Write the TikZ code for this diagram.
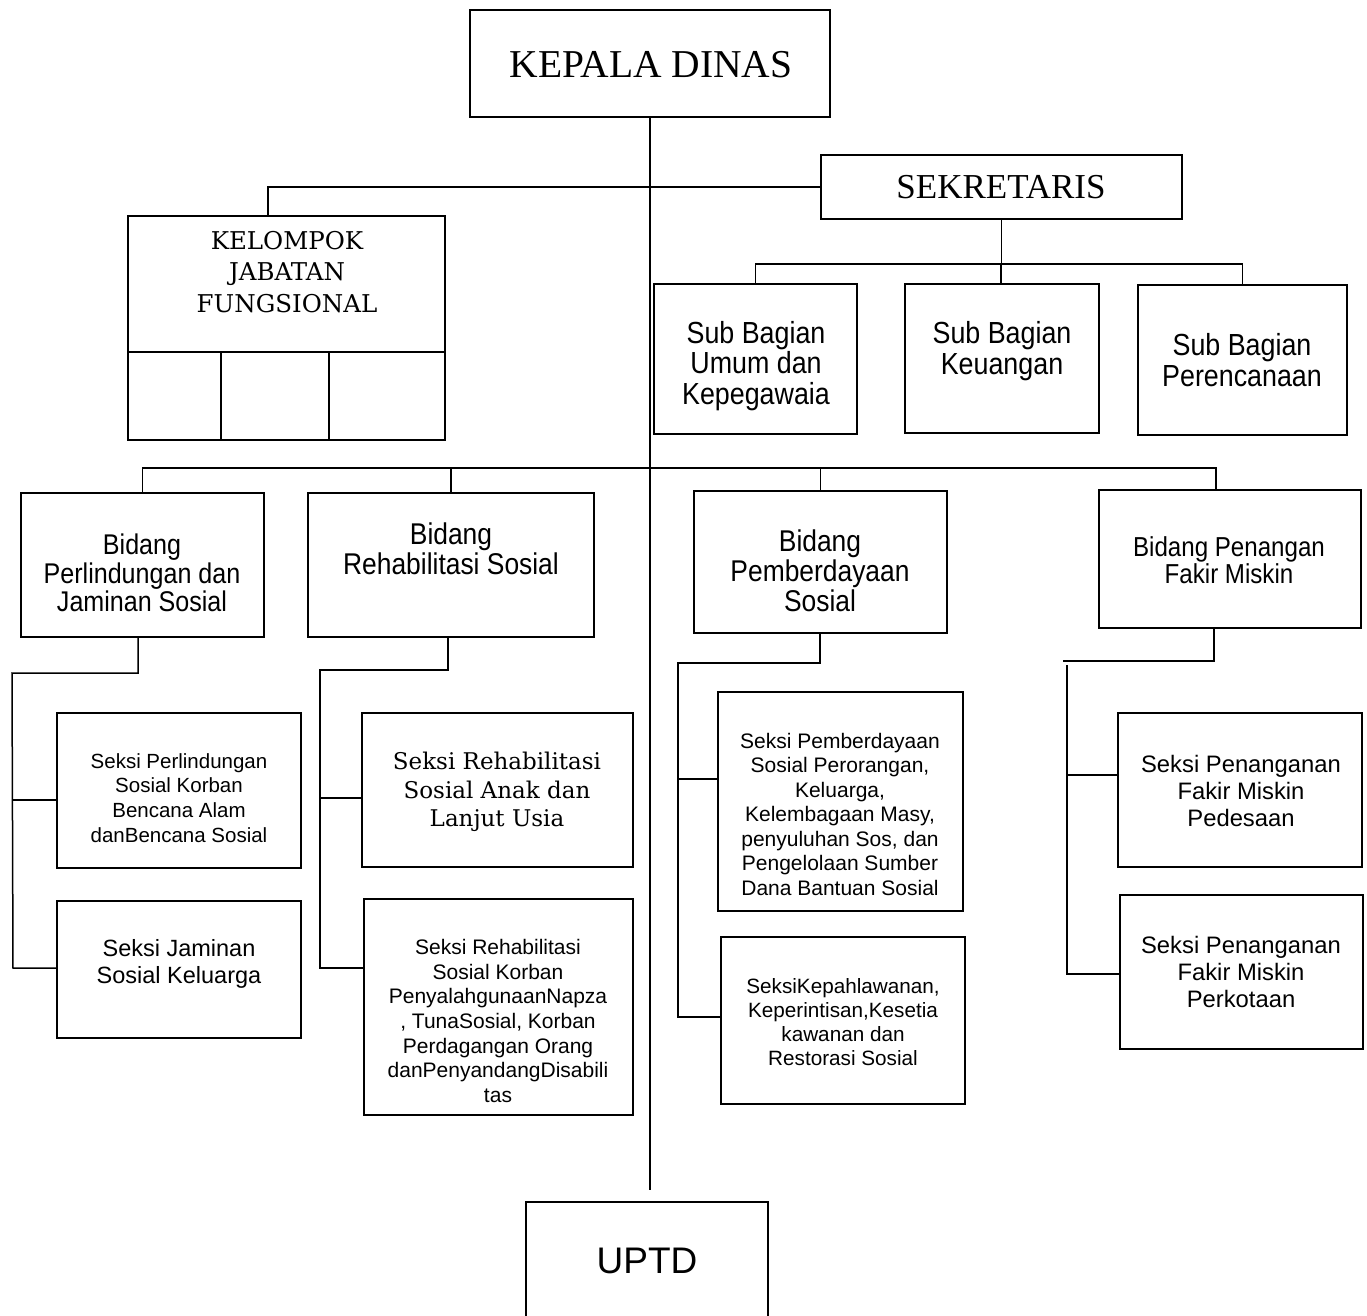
\documentclass[tikz,border=0pt]{standalone}
\usepackage{fontspec}
\setmainfont{Liberation Sans}
\newfontfamily\tnr{Liberation Serif}
\newfontfamily\bkm{DejaVu Serif}
\newfontfamily\nsans[FakeStretch=0.88]{Liberation Sans}
\newcommand\obox[5]{\node[box, minimum width={(#4)-(#2)}, minimum height={(#5)-(#3)}] (#1) at ({((#2)+(#4))/2},{((#3)+(#5))/2}) {};}
\begin{document}
\begin{tikzpicture}[x=1pt,y=-1pt,
  box/.style={draw, line width=1.5pt, inner sep=0pt, rectangle},
  conn/.style={line width=1.5pt},
  txt/.style={align=center, inner sep=0pt}]
\clip (0,0) rectangle (1367,1316);
\fill[white] (0,0) rectangle (1367,1316);
% boxes
\obox{kd}{470}{10}{830}{117}
\obox{sek}{821}{155}{1182}{219}
\obox{kjf}{128}{216}{445}{440}
\obox{sb1}{654}{284}{857}{434}
\obox{sb2}{905}{284}{1099}{433}
\obox{sb3}{1138}{285}{1347}{435}
\obox{b1}{21}{493}{264}{637}
\obox{b2}{308}{493}{594}{637}
\obox{b3}{694}{491}{947}{633}
\obox{b4}{1099}{490}{1361}{628}
\obox{s11}{57}{713}{301}{868}
\obox{s12}{57}{901}{301}{1038}
\obox{s21}{362}{713}{633}{867}
\obox{s22}{364}{899}{633}{1115}
\obox{s31}{718}{692}{963}{911}
\obox{s32}{721}{937}{965}{1104}
\obox{s41}{1118}{713}{1362}{867}
\obox{s42}{1120}{895}{1363}{1049}
\obox{uptd}{526}{1202}{768}{1340}
% texts
\node[txt, font=\tnr\fontsize{39.5}{44}\selectfont] (tkd) at (651,65) {KEPALA DINAS};
\node[txt, font=\tnr\fontsize{35}{38}\selectfont] (tsek) at (1001,187) {SEKRETARIS};
\node[txt, font=\bkm\fontsize{24.5}{31.5}\selectfont] (tkjf) at (287,272) {KELOMPOK\\JABATAN\\FUNGSIONAL};
\node[txt, font=\nsans\fontsize{30.5}{30.5}\selectfont] (tsb1) at (756,366) {Sub Bagian\\Umum dan\\Kepegawaia};
\node[txt, font=\nsans\fontsize{30.5}{30.5}\selectfont] (tsb2) at (1002,351) {Sub Bagian\\Keuangan};
\node[txt, font=\nsans\fontsize{30.5}{30.5}\selectfont] (tsb3) at (1242,360) {Sub Bagian\\Perencanaan};
\node[txt, font=\nsans\fontsize{28.5}{28.5}\selectfont] (tb1) at (142,573) {Bidang\\Perlindungan dan\\Jaminan Sosial};
\node[txt, font=\nsans\fontsize{30}{30}\selectfont] (tb2) at (451,549) {Bidang\\Rehabilitasi Sosial};
\node[txt, font=\nsans\fontsize{30}{30}\selectfont] (tb3) at (820,571) {Bidang\\Pemberdayaan\\Sosial};
\node[txt, font=\nsans\fontsize{27.4}{27}\selectfont] (tb4) at (1229,560) {Bidang Penangan\\Fakir Miskin};
\node[txt, font=\fontsize{20.5}{24.7}\selectfont] (ts11) at (179,798) {Seksi Perlindungan\\Sosial Korban\\Bencana Alam\\danBencana Sosial};
\node[txt, font=\fontsize{23.5}{27}\selectfont] (ts12) at (179,964) {Seksi Jaminan\\Sosial Keluarga};
\node[txt, font=\bkm\fontsize{23}{28.5}\selectfont] (ts21) at (497,792) {Seksi Rehabilitasi\\Sosial Anak dan\\Lanjut Usia};
\node[txt, font=\fontsize{21}{24.7}\selectfont] (ts22) at (498,1021) {Seksi Rehabilitasi\\Sosial Korban\\PenyalahgunaanNapza\\, TunaSosial, Korban\\Perdagangan Orang\\danPenyandangDisabili\\tas};
\node[txt, font=\fontsize{21}{24.5}\selectfont] (ts31) at (840,814) {Seksi Pemberdayaan\\Sosial Perorangan,\\Keluarga,\\Kelembagaan Masy,\\penyuluhan Sos, dan\\Pengelolaan Sumber\\Dana Bantuan Sosial};
\node[txt, font=\fontsize{20.7}{24}\selectfont] (ts32) at (843,1022) {SeksiKepahlawanan,\\Keperintisan,Kesetia\\kawanan dan\\Restorasi Sosial};
\node[txt, font=\fontsize{23.8}{27}\selectfont] (ts41) at (1241,791) {Seksi Penanganan\\Fakir Miskin\\Pedesaan};
\node[txt, font=\fontsize{23.8}{27}\selectfont] (ts42) at (1241,972) {Seksi Penanganan\\Fakir Miskin\\Perkotaan};
\node[txt, font=\fontsize{37}{44}\selectfont] (tuptd) at (647,1261) {UPTD};
% KJF inner grid
\coordinate (kjfmid) at (0,352);
\draw[conn] (kjf.west |- kjfmid) -- (kjf.east |- kjfmid);
\coordinate (kd1) at (221,352);
\coordinate (kd2) at (329,352);
\draw[conn] (kd1) -- (kd1 |- kjf.south);
\draw[conn] (kd2) -- (kd2 |- kjf.south);
% main line
\coordinate (mainend) at (650,1190);
\draw[conn] (kd.south) -- (mainend);
% sekretaris / KJF
\coordinate (kjfbend) at (268,187);
\draw[conn] (sek.west) -- (kjfbend) -- (kjfbend |- kjf.north);
% sub bagian
\coordinate (sbbar) at (1001,264);
\draw[conn] (sek.south) -- (sek.south |- sbbar);
\draw[conn] (sb1.north) |- (sbbar) -| (sb3.north);
\draw[conn] (sbbar) -- (sbbar |- sb2.north);
% bidang bar
\coordinate (bbar) at (650,468);
\coordinate (b4drop) at (1216,468);
\draw[conn] (b1.north) |- (b4drop) -- (b4drop |- b4.north);
\draw[conn] (b2.north) -- (b2.north |- bbar);
\draw[conn] (b3.north) -- (b3.north |- bbar);
% perlindungan
\coordinate (pA) at (138,673);
\coordinate (pS) at (12,673);
\coordinate (pS1) at (13,800);
\coordinate (pS2) at (13,968);
\draw[conn] (pA |- b1.south) -- (pA) -- (pS) -- (pS2) -- (pS2 -| s12.west);
\draw[conn] (pS1) -- (pS1 -| s11.west);
% rehabilitasi
\coordinate (rA) at (448,670);
\coordinate (rS) at (320,670);
\coordinate (rS1) at (320,798);
\coordinate (rS2) at (320,968);
\draw[conn] (rA |- b2.south) -- (rA) -- (rS) -- (rS2) -- (rS2 -| s22.west);
\draw[conn] (rS1) -- (rS1 -| s21.west);
% pemberdayaan
\coordinate (eA) at (820,663);
\coordinate (eS) at (678,663);
\coordinate (eS1) at (678,779);
\coordinate (eS2) at (678,1017);
\draw[conn] (eA |- b3.south) -- (eA) -- (eS) -- (eS2) -- (eS2 -| s32.west);
\draw[conn] (eS1) -- (eS1 -| s31.west);
% fakir miskin
\coordinate (fA) at (1214,661);
\coordinate (fH) at (1063,661);
\coordinate (fS) at (1067,665);
\coordinate (fS1) at (1067,775);
\coordinate (fS2) at (1067,974);
\draw[conn] (fA |- b4.south) -- (fA) -- (fH);
\draw[conn] (fS) -- (fS2) -- (fS2 -| s42.west);
\draw[conn] (fS1) -- (fS1 -| s41.west);
\end{tikzpicture}
\end{document}
